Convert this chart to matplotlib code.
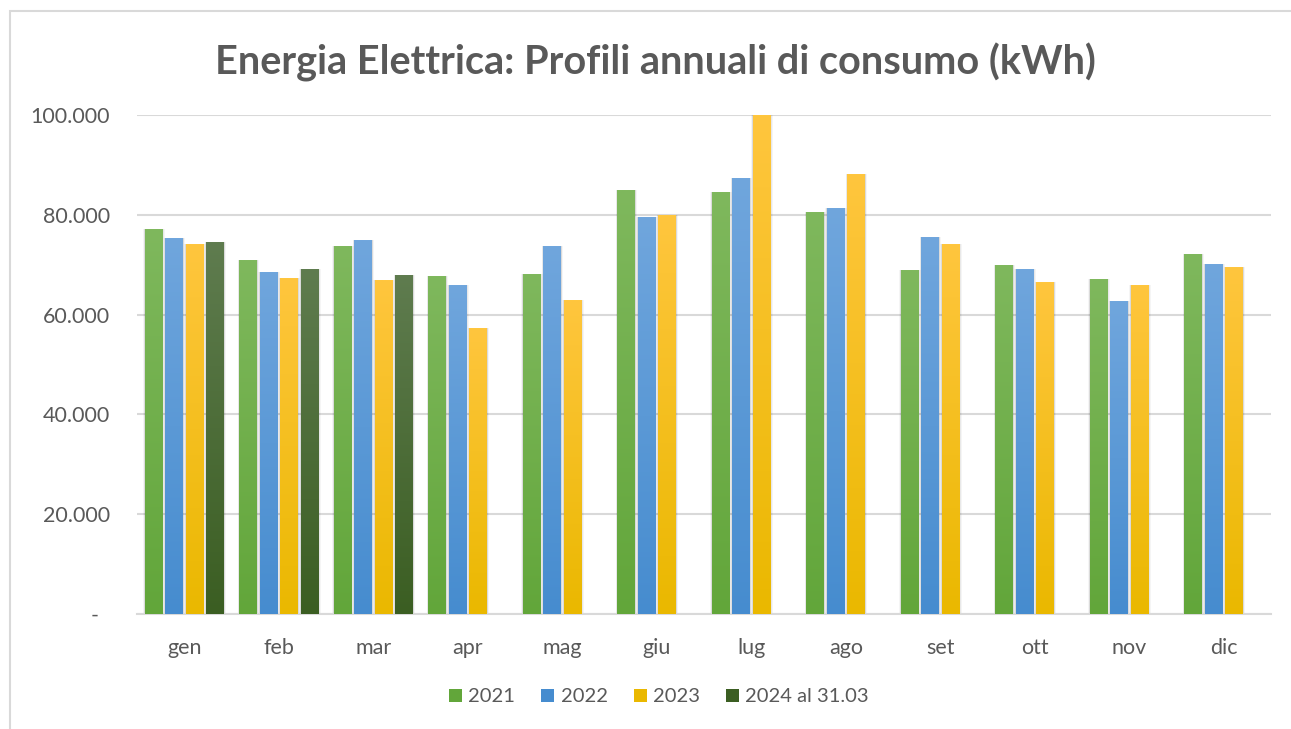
import numpy as np
import matplotlib.pyplot as plt
from matplotlib.ticker import FuncFormatter
from matplotlib.colors import LinearSegmentedColormap
from matplotlib.patches import Rectangle

# Dati (kWh)
mesi = ["gen", "feb", "mar", "apr", "mag", "giu", "lug", "ago", "set", "ott", "nov", "dic"]
anni = ["2021", "2022", "2023", "2024 al 31.03"]
v2021 = [77100, 70900, 73700, 67700, 68100, 84950, 84550, 80550, 68900, 69900, 67100, 72100]
v2022 = [75300, 68500, 74900, 65900, 73700, 79550, 87350, 81350, 75500, 69100, 62700, 70100]
v2023 = [74100, 67300, 66900, 57300, 62900, 79950, 101000, 88150, 74100, 66500, 65900, 69500]
v2024 = [74500, 69100, 67900, None, None, None, None, None, None, None, None, None]
serie = [v2021, v2022, v2023, v2024]

# colori gradiente (alto, basso)
colori = [("#7fb85d", "#62a63a"),
          ("#70a6dd", "#468ccf"),
          ("#ffc63e", "#eab800"),
          ("#5f7c4f", "#3b5e22")]

TXT = "#595959"
font = ["Lato", "DejaVu Sans"]
plt.rcParams["font.family"] = font

fig = plt.figure(figsize=(12.91, 7.29), dpi=100)
# cornice del grafico (esce a destra e in basso)
fig.add_artist(Rectangle((9.5 / 1291, -0.05), 1.2, 1 - 10.5 / 729 + 0.05,
                         transform=fig.transFigure, fill=False,
                         edgecolor="#d9d9d9", linewidth=1.5))
ax = fig.add_axes([137 / 1291, 115 / 729, 1134 / 1291, 499 / 729])

YMAX = 100000
larg = 0.19
passo = 0.217
x = np.arange(len(mesi))

for i, (vals, (c_top, c_bot)) in enumerate(zip(serie, colori)):
    cmap = LinearSegmentedColormap.from_list(f"g{i}", [c_bot, c_top])
    grad = np.linspace(0, 1, 256).reshape(-1, 1)
    offs = (i - 1.5) * passo
    for j, v in enumerate(vals):
        if v is None:
            continue
        h = min(v, YMAX)
        x0 = x[j] + offs - larg / 2
        # ombra leggera
        for k, a in enumerate([0.06, 0.05, 0.04]):
            d = 0.006 * (k + 1)
            ax.bar(x0 + larg / 2 + 0.004, h, width=larg + 2 * d, bottom=0,
                   color="black", alpha=a, linewidth=0, zorder=2)
        ax.imshow(grad, cmap=cmap, origin="lower", aspect="auto",
                  extent=[x0, x0 + larg, 0, h], zorder=3, interpolation="bilinear")
    # voce di legenda
    ax.bar([0], [0], color=c_bot, label=anni[i])

ax.set_xlim(-0.5, len(mesi) - 0.5)
ax.set_ylim(0, YMAX)

ax.set_yticks(np.arange(0, YMAX + 1, 20000))
ax.yaxis.set_major_formatter(FuncFormatter(
    lambda v, p: "-  " if v == 0 else f"{int(v):,}".replace(",", ".")))
ax.set_xticks(x)
ax.set_xticklabels(mesi)
ax.tick_params(axis="y", length=0, pad=19.5, labelsize=15.5, labelcolor=TXT)
ax.tick_params(axis="x", length=0, pad=17, labelsize=15.5, labelcolor=TXT)
ax.grid(axis="y", color="#d9d9d9", linewidth=1.5, zorder=0)
ax.set_axisbelow(True)
for s in ["left", "right", "top"]:
    ax.spines[s].set_visible(False)
ax.spines["bottom"].set_color("#d9d9d9")
ax.spines["bottom"].set_linewidth(1.5)

fig.text(655 / 1291, 1 - 62 / 729, "Energia Elettrica: Profili annuali di consumo (kWh)",
         ha="center", va="center", fontsize=28.5, fontweight="bold", color=TXT)

leg = ax.legend(loc="center", bbox_to_anchor=(659 / 1291, 1 - 697 / 729),
                bbox_transform=fig.transFigure, ncol=4, frameon=False,
                fontsize=14.5, handlelength=0.65, handleheight=0.65,
                handletextpad=0.3, columnspacing=1.3)
for t in leg.get_texts():
    t.set_color(TXT)

fig.savefig("out.png", dpi=100)
